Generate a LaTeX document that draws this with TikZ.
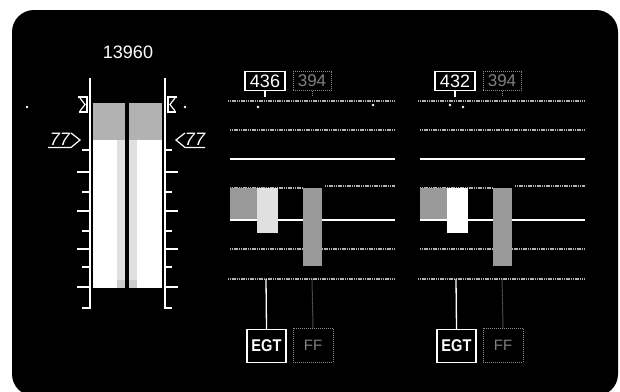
\documentclass[tikz,border=0pt]{standalone}
\usepackage{graphicx}
\usepackage{fontspec}
\newfontfamily\arial{Liberation Sans}
\begin{document}
\begin{tikzpicture}[x=1pt,y=-1pt,
  wline/.style={draw=white,line width=1.6pt},
  gline/.style={draw=white!70!black,line width=1.1pt,dash pattern=on 1.2pt off 0.6pt},
  stip/.style={fill=white!60!black},
  valbox/.style={draw=white,line width=1.4pt,text=white,font=\arial\fontsize{18}{18}\selectfont,minimum width=40pt,minimum height=19pt,inner sep=0pt},
  gvalbox/.style={draw=white!55!black,line width=1pt,dash pattern=on 1pt off 1pt,text=white!50!black,font=\arial\fontsize{17}{17}\selectfont,minimum width=38pt,minimum height=19pt,inner sep=0pt},
  labbox/.style={draw=white,line width=1.4pt,text=white,font=\arial\bfseries\fontsize{17}{17}\selectfont,minimum width=39pt,minimum height=33pt,inner sep=0pt},
  glabbox/.style={draw=white!55!black,line width=1pt,dash pattern=on 1pt off 1pt,text=white!50!black,font=\arial\fontsize{15}{15}\selectfont,minimum width=40pt,minimum height=34pt,inner sep=0pt},
  numtxt/.style={text=white,font=\arial\fontsize{18}{18}\selectfont,inner sep=0pt},
  mktxt/.style={text=white,font=\arial\itshape\fontsize{18}{18}\selectfont,inner sep=0pt}
]
\useasboundingbox (0,0) rectangle (620,391);
\fill[white] (0,0) rectangle (620,391);
\fill[black,rounded corners=22pt] (12,10) rectangle (618,396);

% ---------- left N1 gauge ----------
\node[numtxt] (n1) at (128,52) {13960};
% bars
\fill[white!70!black] (93,103) rectangle (125,288);
\fill[white!70!black] (129,103) rectangle (162,288);
\fill[white!88!black] (117,140) rectangle (125,280);
\fill[white!88!black] (129,140) rectangle (137,280);
\fill[white] (93,140) rectangle (117,288);
\fill[white] (137,140) rectangle (162,288);
\fill[white!80!black] (117,280) rectangle (125,288);
\fill[white!80!black] (129,280) rectangle (137,288);
% scales
\draw[wline] (82,308) -- (90,308) -- (90,78);
\draw[wline] (172,308) -- (165,308) -- (165,78);
\foreach \yy in {150,192,231,267} {
  \draw[wline] (82,\yy) -- (90,\yy);
  \draw[wline] (165,\yy) -- (172,\yy);
}
\foreach \yy in {172,211,249,287} {
  \draw[wline] (77,\yy) -- (90,\yy);
  \draw[wline] (165,\yy) -- (178,\yy);
}
% top brackets
\draw[white,line width=1.4pt] (78,97) -- (87,97) -- (87,112) -- (79,112);
\draw[white,line width=1.2pt] (80,98) -- (85,104.5) -- (80,111);
\draw[white,line width=1.4pt] (177,97) -- (168,97) -- (168,112) -- (176,112);
\draw[white,line width=1.2pt] (175,98) -- (170,104.5) -- (175,111);
% 77 markers
\node[mktxt] (m77l) at (60,139.5) {77};
\node[mktxt] (m77r) at (195,139.5) {77};
\draw[white,line width=1.2pt] (48,147.5) -- (71,147.5) -- (80,140) -- (71,133);
\draw[white,line width=1.2pt] (205,147.5) -- (185,147.5) -- (176,140) -- (185,133);
% dots
\fill[white] (27,107) circle (1.3pt);
\fill[white] (185,107) circle (1.3pt);

% ---------- engine panels ----------
\foreach \o/\n/\v/\bc in {0/1/436/white!88!black,190/2/432/white} {
  % horizontal scale lines
  \draw[gline] ({\o+228},101) -- ({\o+395},101);
  \draw[gline] ({\o+230},130) -- ({\o+395},130);
  \draw[wline,line width=2pt] ({\o+230},159) -- ({\o+395},159);
  \draw[gline] ({\o+230},188) -- ({\o+303},188);
  \draw[gline] ({\o+325},186) -- ({\o+395},186);
  \draw[wline,line width=2pt] ({\o+230},220) -- ({\o+395},220);
  \draw[gline] ({\o+230},249) -- ({\o+395},249);
  \draw[gline] ({\o+228},279) -- ({\o+395},279);
  % bars
  \fill[stip] ({\o+230},188) rectangle ({\o+257},219);
  \fill[\bc] ({\o+257},188) rectangle ({\o+278},233);
  \fill[stip] ({\o+303},188) rectangle ({\o+322},266);
  % value boxes
  \node[valbox] (val\n) at ({\o+265},81) {\v};
  \node[gvalbox] (gv\n) at ({\o+312},81) {394};
  \coordinate (tv\n) at ({\o+265},97);
  \coordinate (tg\n) at ({\o+312},96);
  \draw[white,line width=1.2pt] (val\n.south) -- (tv\n);
  \draw[white!55!black,line width=1pt,dash pattern=on 1pt off 1pt] (gv\n.south) -- (tg\n);
  % labels
  \node[labbox] (egt\n) at ({\o+266.5},346) {\scalebox{0.86}[1]{EGT}};
  \node[glabbox] (ff\n) at ({\o+313},345) {FF};
  \coordinate (ce\n) at ({\o+266},279);
  \coordinate (cf\n) at ({\o+312},279);
  \draw[white,line width=1.3pt] (egt\n.north) -- (ce\n);
  \draw[white!55!black,line width=1pt,dash pattern=on 1pt off 1pt] (ff\n.north) -- (cf\n);
}
% dots
\fill[white] (258,107) circle (1.3pt);
\fill[white] (373,105) circle (1.3pt);
\fill[white] (450,105) circle (1.3pt);
\fill[white] (463,107) circle (1.3pt);
\end{tikzpicture}
\end{document}
